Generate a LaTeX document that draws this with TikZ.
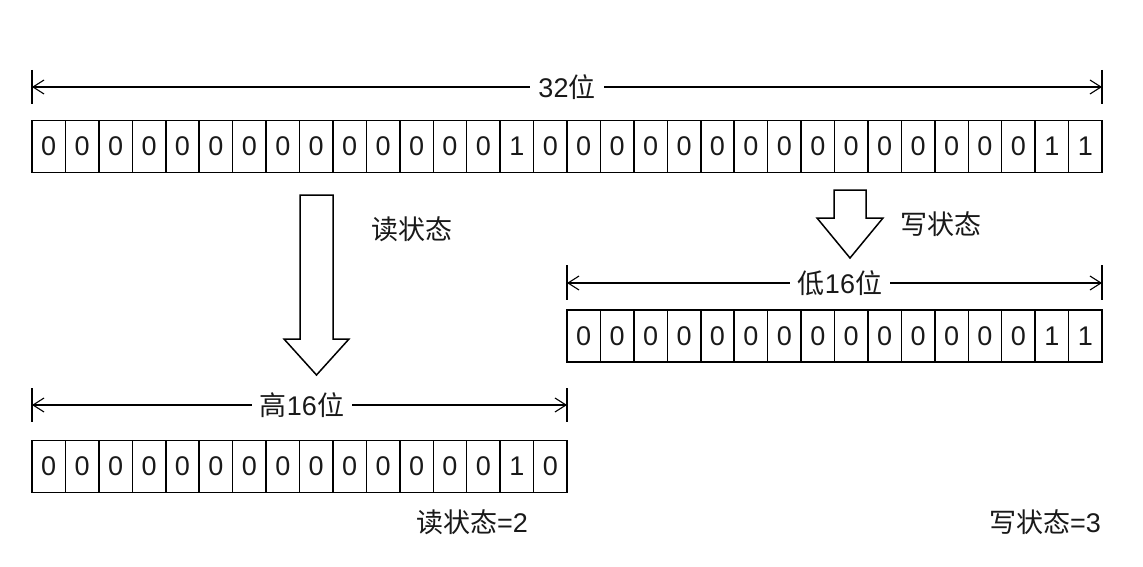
\documentclass[tikz,border=0pt]{standalone}
\usepackage{fontspec}
\setmainfont{Liberation Sans}
\newfontfamily\cjk{Noto Sans CJK SC}
\usetikzlibrary{arrows.meta}
\definecolor{ink}{RGB}{25,25,25}
\tikzset{
  bitcell/.style={draw, line width=1.5pt, minimum width=33.44pt, minimum height=52pt, inner sep=0pt, text=ink, font=\fontsize{27}{27}\selectfont},
  dimline/.style={line width=1.1pt, {Straight Barb[length=11pt,width=14pt,line width=1.1pt]}-{Straight Barb[length=11pt,width=14pt,line width=1.1pt]}},
  tick/.style={line width=1.4pt},
  dimlabel/.style={fill=white, inner xsep=8pt, inner ysep=2pt, text=ink, font=\fontsize{27}{27}\selectfont},
  biglabel/.style={font=\fontsize{27}{27}\selectfont, text=ink, inner sep=0pt},
  fatarrow/.style={draw, line width=1.5pt, fill=white, line join=miter}
}
\begin{document}
\begin{tikzpicture}[x=1pt,y=-1pt]
\useasboundingbox (0,0) rectangle (1143,567);
% top row 32 bits
\foreach \b [count=\i] in {0,0,0,0,0,0,0,0,0,0,0,0,0,0,1,0,0,0,0,0,0,0,0,0,0,0,0,0,0,0,1,1}{
  \node[bitcell] (t\i) at ({32+(\i-0.5)*33.4375},146.5) {\b};
}
% top dimension
\coordinate (ta) at (32,87);
\coordinate (tb) at (1102,87);
\draw[tick] (32,70) -- (32,104);
\draw[tick] (1102,70) -- (1102,104);
\draw[dimline] (ta) -- (tb);
\node[dimlabel] (l32) at (567,87) {32{\cjk 位}};

% read arrow
\draw[fatarrow] (300,195) -- (333,195) -- (333,339) -- (349,339) -- (316.5,375) -- (284,339) -- (300,339) -- cycle;
\node[biglabel] (rs) at (412,229) {\cjk 读状态};

% write arrow
\draw[fatarrow] (834,190) -- (866,190) -- (866,218) -- (883,218) -- (850,258) -- (817,218) -- (834,218) -- cycle;
\node[biglabel] (ws) at (941,224) {\cjk 写状态};

% low 16 dimension
\coordinate (la) at (567,283);
\coordinate (lb) at (1102,283);
\draw[tick] (567,265) -- (567,300);
\draw[tick] (1102,265) -- (1102,300);
\draw[dimline] (la) -- (lb);
\node[dimlabel] (l16) at (840,283) {{\cjk 低}16{\cjk 位}};
\foreach \b [count=\i] in {0,0,0,0,0,0,0,0,0,0,0,0,0,0,1,1}{
  \node[bitcell] (r\i) at ({567+(\i-0.5)*33.4375},336) {\b};
}

% high 16 dimension
\coordinate (ha) at (32,405);
\coordinate (hb) at (567,405);
\draw[tick] (32,388) -- (32,422);
\draw[tick] (567,388) -- (567,422);
\draw[dimline] (ha) -- (hb);
\node[dimlabel] (h16) at (302,405) {{\cjk 高}16{\cjk 位}};
\foreach \b [count=\i] in {0,0,0,0,0,0,0,0,0,0,0,0,0,0,1,0}{
  \node[bitcell] (h\i) at ({32+(\i-0.5)*33.4375},466.5) {\b};
}

% results
\node[biglabel, anchor=east] (rv) at (528,522) {{\cjk 读状态}=2};
\node[biglabel, anchor=east] (wv) at (1101,522) {{\cjk 写状态}=3};
\end{tikzpicture}
\end{document}
